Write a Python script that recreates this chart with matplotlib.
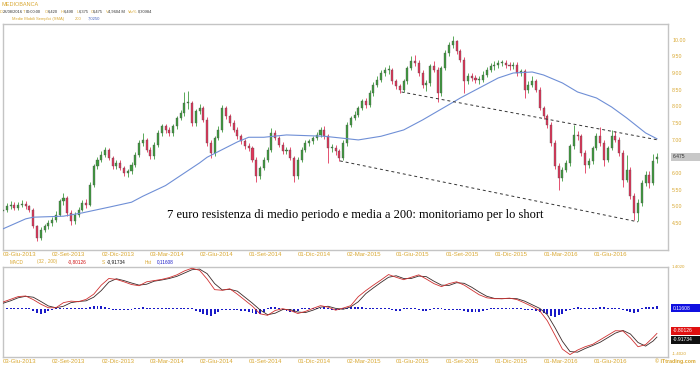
import matplotlib
matplotlib.use('Agg')
import matplotlib.pyplot as plt
import matplotlib.dates as mdates
from matplotlib.patches import Rectangle
import numpy as np
import pandas as pd

# weekly bars
weeks = pd.date_range('2013-05-03', '2016-08-26', freq='W-FRI')

opens = [4.85, 4.90, 5.00, 5.05, 4.95, 5.05, 5.08, 5.00, 4.90, 4.40,
         4.05, 4.30, 4.40, 4.50, 4.60, 4.75, 5.15, 5.25, 4.80, 4.55,
         4.75, 4.90, 5.10, 5.05, 5.65, 6.20, 6.40, 6.55, 6.70, 6.45,
         6.20, 6.30, 6.15, 6.00, 6.05, 6.25, 6.55, 6.90, 7.00, 6.70,
         6.50, 6.85, 7.20, 7.40, 7.30, 7.20, 7.40, 7.65, 7.80, 8.10,
         8.10, 7.50, 7.85, 7.95, 7.60, 6.90, 6.60, 7.05, 7.30, 7.95,
         7.70, 7.50, 7.30, 7.10, 6.95, 6.80, 6.75, 6.40, 5.90, 6.15,
         6.40, 6.70, 7.20, 7.05, 6.85, 6.65, 6.70, 6.45, 5.90, 6.40,
         6.70, 6.90, 6.95, 7.05, 7.15, 7.30, 7.10, 6.75, 6.75, 6.65,
         6.45, 6.90, 7.45, 7.65, 7.75, 7.95, 8.15, 8.05, 8.40, 8.65,
         8.80, 9.00, 9.10, 9.10, 8.75, 8.60, 8.50, 8.75, 9.15, 9.35,
         9.30, 9.00, 8.65, 8.70, 9.20, 9.10, 8.40, 9.15, 9.60, 9.85,
         9.95, 9.65, 9.40, 8.75, 8.90, 8.85, 8.80, 8.80, 8.95, 9.10,
         9.20, 9.25, 9.30, 9.30, 9.25, 9.20, 9.25, 9.00, 9.05, 8.50,
         8.65, 8.75, 8.50, 7.95, 7.70, 7.45, 6.90, 6.20, 5.85, 6.10,
         6.30, 6.80, 7.15, 7.10, 6.60, 6.25, 6.35, 6.75, 7.10, 6.90,
         6.40, 6.75, 7.10, 7.00, 6.60, 5.80, 6.10, 5.30, 4.80, 5.10,
         5.70, 5.95, 5.70, 6.420]
highs = [5.00, 5.10, 5.15, 5.12, 5.12, 5.18, 5.15, 5.05, 4.95, 4.45,
         4.38, 4.48, 4.58, 4.68, 4.85, 5.22, 5.40, 5.30, 4.88, 4.82,
         4.98, 5.18, 5.22, 5.72, 6.28, 6.48, 6.65, 6.78, 6.75, 6.52,
         6.38, 6.38, 6.22, 6.12, 6.32, 6.62, 6.98, 7.20, 7.05, 6.78,
         6.92, 7.28, 7.48, 7.46, 7.38, 7.48, 7.72, 7.90, 8.42, 8.45,
         8.15, 7.92, 8.08, 8.02, 7.68, 6.98, 7.12, 7.40, 8.05, 8.00,
         7.78, 7.58, 7.38, 7.18, 7.02, 6.90, 6.82, 6.48, 6.22, 6.48,
         6.78, 7.35, 7.28, 7.12, 6.92, 6.78, 6.78, 6.52, 6.48, 6.78,
         6.98, 7.02, 7.12, 7.22, 7.38, 7.40, 7.18, 6.88, 6.85, 6.72,
         6.98, 7.52, 7.72, 7.85, 8.02, 8.22, 8.25, 8.48, 8.72, 8.90,
         9.08, 9.18, 9.25, 9.15, 8.82, 8.68, 8.82, 9.22, 9.50, 9.55,
         9.38, 9.08, 8.80, 9.28, 9.35, 9.18, 9.22, 9.68, 9.92, 10.10,
         10.00, 9.72, 9.48, 9.00, 9.00, 8.95, 8.92, 9.05, 9.18, 9.30,
         9.35, 9.38, 9.40, 9.38, 9.32, 9.34, 9.32, 9.12, 9.12, 8.75,
         8.90, 8.82, 8.58, 8.02, 7.78, 7.52, 6.98, 6.30, 6.18, 6.38,
         6.88, 7.45, 7.25, 7.18, 6.68, 6.45, 6.82, 7.20, 7.38, 6.98,
         6.82, 7.28, 7.25, 7.08, 6.68, 6.55, 6.18, 5.40, 5.22, 5.78,
         6.05, 6.05, 6.58, 6.60]
lows = [4.75, 4.82, 4.92, 4.88, 4.88, 4.98, 4.92, 4.82, 4.35, 3.95,
        3.98, 4.22, 4.32, 4.42, 4.52, 4.70, 5.05, 4.72, 4.45, 4.48,
        4.68, 4.85, 4.95, 5.00, 5.58, 6.12, 6.32, 6.48, 6.38, 6.12,
        6.12, 6.08, 5.90, 5.88, 5.98, 6.18, 6.48, 6.82, 6.62, 6.42,
        6.42, 6.78, 7.12, 7.20, 7.10, 7.12, 7.32, 7.58, 7.72, 7.92,
        7.40, 7.42, 7.78, 7.52, 6.82, 6.45, 6.52, 6.98, 7.22, 7.62,
        7.42, 7.22, 7.02, 6.88, 6.72, 6.65, 6.32, 5.72, 5.82, 6.08,
        6.32, 6.62, 6.98, 6.78, 6.58, 6.58, 6.38, 5.72, 5.82, 6.32,
        6.62, 6.82, 6.88, 6.98, 7.08, 7.02, 6.30, 6.62, 6.55, 6.35,
        6.38, 6.82, 7.38, 7.58, 7.68, 7.88, 7.95, 7.98, 8.32, 8.58,
        8.72, 8.92, 8.98, 8.68, 8.52, 8.40, 8.42, 8.68, 9.08, 9.20,
        8.92, 8.55, 8.45, 8.62, 9.02, 8.12, 8.32, 9.08, 9.52, 9.75,
        9.58, 9.32, 8.40, 8.68, 8.75, 8.70, 8.68, 8.72, 8.88, 9.02,
        9.10, 9.15, 9.20, 9.15, 9.10, 9.12, 8.92, 8.92, 8.25, 8.40,
        8.58, 8.42, 7.88, 7.62, 7.35, 6.82, 6.12, 5.48, 5.75, 6.02,
        6.22, 6.72, 7.00, 6.52, 6.00, 6.15, 6.28, 6.68, 6.82, 6.20,
        6.32, 6.68, 6.92, 6.52, 5.58, 5.72, 5.22, 4.60, 4.55, 5.02,
        5.62, 5.55, 5.65, 6.30]
closes = [4.90, 5.00, 5.05, 4.95, 5.05, 5.08, 5.00, 4.90, 4.40, 4.05,
          4.30, 4.40, 4.50, 4.60, 4.75, 5.15, 5.25, 4.80, 4.55, 4.75,
          4.90, 5.10, 5.05, 5.65, 6.20, 6.40, 6.55, 6.70, 6.45, 6.20,
          6.30, 6.15, 6.00, 6.05, 6.25, 6.55, 6.90, 7.00, 6.70, 6.50,
          6.85, 7.20, 7.40, 7.30, 7.20, 7.40, 7.65, 7.80, 8.10, 8.10,
          7.50, 7.85, 7.95, 7.60, 6.90, 6.60, 7.05, 7.30, 7.95, 7.70,
          7.50, 7.30, 7.10, 6.95, 6.80, 6.75, 6.40, 5.90, 6.15, 6.40,
          6.70, 7.20, 7.05, 6.85, 6.65, 6.70, 6.45, 5.90, 6.40, 6.70,
          6.90, 6.95, 7.05, 7.15, 7.30, 7.10, 6.75, 6.75, 6.65, 6.45,
          6.90, 7.45, 7.65, 7.75, 7.95, 8.15, 8.05, 8.40, 8.65, 8.80,
          9.00, 9.10, 9.10, 8.75, 8.60, 8.50, 8.75, 9.15, 9.35, 9.30,
          9.00, 8.65, 8.70, 9.20, 9.10, 8.40, 9.15, 9.60, 9.85, 9.95,
          9.65, 9.40, 8.75, 8.90, 8.85, 8.80, 8.80, 8.95, 9.10, 9.20,
          9.25, 9.30, 9.30, 9.25, 9.20, 9.25, 9.00, 9.05, 8.50, 8.65,
          8.75, 8.50, 7.95, 7.70, 7.45, 6.90, 6.20, 5.85, 6.10, 6.30,
          6.80, 7.15, 7.10, 6.60, 6.25, 6.35, 6.75, 7.10, 6.90, 6.40,
          6.75, 7.10, 7.00, 6.60, 5.80, 6.10, 5.30, 4.80, 5.10, 5.70,
          5.95, 5.70, 6.35, 6.475]

# 200-day simple moving average
sma_dates = ['2013-05-03', '2013-06-14', '2013-06-28', '2013-08-23', '2013-09-27',
             '2013-11-15', '2013-12-27', '2014-01-17', '2014-02-28', '2014-05-02',
             '2014-05-16', '2014-07-11', '2014-08-01', '2014-08-29', '2014-10-10',
             '2014-12-19', '2015-01-23', '2015-02-20', '2015-04-03', '2015-05-15',
             '2015-06-19', '2015-07-24', '2015-08-28', '2015-09-25', '2015-11-06',
             '2015-12-04', '2016-01-08', '2016-01-29', '2016-03-04', '2016-04-01',
             '2016-05-06', '2016-06-03', '2016-07-01', '2016-08-05', '2016-08-26']
sma_vals = [4.32, 4.62, 4.67, 4.70, 4.80, 4.97, 5.12, 5.30, 5.62, 6.30,
            6.47, 6.93, 7.07, 7.07, 7.14, 7.10, 7.04, 6.99, 7.10, 7.29,
            7.59, 7.92, 8.25, 8.49, 8.85, 9.00, 9.03, 8.94, 8.70, 8.43,
            8.25, 7.98, 7.65, 7.20, 7.025]

# MACD and signal, every second week (plus the last bar)
macd_idx = list(range(0, 173, 2)) + [173]
macd_vals = [0.24, 0.33, 0.42, 0.44, 0.32, 0.17, 0.05, 0.05, 0.22, 0.27,
             0.25, 0.33, 0.50, 0.80, 1.02, 0.99, 0.91, 0.82, 0.78, 0.91,
             0.95, 0.99, 1.05, 1.14, 1.27, 1.36, 1.29, 1.00, 0.65, 0.63,
             0.68, 0.50, 0.30, 0.10, -0.15, -0.20, -0.04, 0.02, -0.04, -0.14,
             -0.07, 0.03, 0.12, 0.07, -0.03, 0.04, 0.12, 0.42, 0.62, 0.80,
             0.97, 1.15, 1.06, 0.98, 1.06, 1.14, 1.00, 0.85, 0.75, 0.85,
             0.91, 0.80, 0.64, 0.48, 0.38, 0.35, 0.35, 0.37, 0.32, 0.21,
             0.09, -0.05, -0.38, -0.85, -1.32, -1.50, -1.35, -1.24, -1.16, -1.01,
             -0.86, -0.71, -0.72, -0.95, -1.24, -1.17, -0.93, -0.80]
signal_vals = [0.20, 0.28, 0.38, 0.43, 0.40, 0.26, 0.11, 0.05, 0.10, 0.22,
               0.26, 0.28, 0.40, 0.62, 0.90, 1.01, 0.95, 0.87, 0.80, 0.83,
               0.93, 0.97, 1.02, 1.09, 1.20, 1.31, 1.33, 1.18, 0.85, 0.64,
               0.66, 0.60, 0.40, 0.20, -0.02, -0.18, -0.13, -0.01, -0.01, -0.09,
               -0.11, -0.03, 0.07, 0.10, 0.03, 0.00, 0.08, 0.25, 0.52, 0.71,
               0.89, 1.06, 1.11, 1.02, 1.02, 1.10, 1.08, 0.93, 0.80, 0.79,
               0.88, 0.86, 0.73, 0.57, 0.43, 0.36, 0.35, 0.36, 0.35, 0.27,
               0.15, 0.03, -0.18, -0.60, -1.06, -1.40, -1.42, -1.30, -1.20, -1.09,
               -0.94, -0.79, -0.70, -0.82, -1.10, -1.22, -1.05, -0.92]
hist_vals = [0.04, 0.05, 0.05, 0.04, 0.04, 0.03, 0.03, 0.03, -0.06, -0.12,
             -0.15, -0.12, -0.05, -0.03, 0.03, 0.04, 0.05, 0.03, 0.03, 0.03,
             0.03, 0.03, 0.04, 0.07, 0.10, 0.12, 0.11, 0.07, 0.03, -0.03,
             -0.04, -0.04, -0.03, -0.03, -0.03, 0.03, 0.05, 0.06, 0.04, 0.03,
             0.03, 0.03, 0.03, 0.03, 0.03, 0.04, 0.05, 0.05, 0.04, 0.03,
             0.03, -0.05, -0.10, -0.16, -0.20, -0.21, -0.15, -0.08, -0.04, -0.03,
             -0.03, -0.04, -0.04, -0.05, -0.06, -0.08, -0.12, -0.15, -0.14, -0.08,
             0.03, 0.06, 0.07, 0.04, -0.03, -0.05, -0.08, -0.08, -0.05, 0.03,
             0.03, 0.05, 0.04, 0.03, 0.05, 0.06, 0.03, -0.03, -0.03, -0.03,
             0.03, 0.05, 0.07, 0.07, 0.06, 0.06, 0.05, 0.04, 0.03, 0.03,
             0.03, 0.03, 0.03, -0.03, -0.06, -0.05, 0.03, 0.03, 0.03, 0.03,
             -0.03, -0.06, -0.05, -0.03, 0.03, 0.03, 0.03, -0.03, -0.04, -0.04,
             -0.03, -0.04, -0.07, -0.09, -0.09, -0.09, -0.08, -0.07, -0.03, 0.03,
             0.03, 0.03, 0.03, 0.03, 0.03, 0.03, 0.03, 0.03, -0.03, -0.03,
             -0.04, -0.06, -0.08, -0.12, -0.17, -0.21, -0.24, -0.20, -0.14, -0.07,
             -0.03, 0.03, 0.06, 0.05, 0.03, 0.03, 0.03, 0.05, 0.08, 0.06,
             0.03, 0.03, 0.05, 0.03, -0.03, -0.06, -0.10, -0.12, -0.08, 0.03,
             0.07, 0.08, 0.09, 0.11]

# dashed trend lines
upper_dates = ['2015-05-11', '2016-08-28']
upper_vals = [8.43, 6.99]
lower_dates = ['2015-01-17', '2016-07-22']
lower_vals = [6.36, 4.53]

tick_dates = ['2013-06-03', '2013-09-02', '2013-12-02', '2014-03-03', '2014-06-02',
              '2014-09-01', '2014-12-01', '2015-03-02', '2015-06-01', '2015-09-01',
              '2015-12-01', '2016-03-01', '2016-06-01']
tick_labels = ['03-Giu-2013', '02-Set-2013', '02-Dic-2013', '03-Mar-2014', '02-Giu-2014',
               '01-Set-2014', '01-Dic-2014', '02-Mar-2015', '01-Giu-2015', '01-Set-2015',
               '01-Dic-2015', '01-Mar-2016', '01-Giu-2016']
price_ticks = [4.5, 5.0, 5.5, 6.0, 7.0, 7.5, 8.0, 8.5, 9.0, 9.5, 10.0]

GOLD = '#d9a832'
GREEN = '#3f9b3f'
RED = '#e0365a'
FRAME = '#c4c4c4'
SANS = 'Liberation Sans'

W, H = 700, 365
fig = plt.figure(figsize=(7, 3.65), dpi=100)


def fx(x):
    return x / W


def fy(y):
    return 1 - y / H


def ftext(x, y, s, color, size=3.6, **kw):
    fig.text(fx(x), fy(y), s, color=color, fontsize=size, va='center', ha='left',
             family=SANS, **kw)


ax = fig.add_axes([fx(3), fy(250), fx(665), 226 / H])
ax2 = fig.add_axes([fx(3), fy(357), fx(665), 90 / H])

x = mdates.date2num(weeks)
o = np.array(opens)
c = np.array(closes)
col = np.where(c >= o, GREEN, RED)

ax.vlines(x, lows, highs, colors=col, lw=0.6, zorder=2)
body = np.maximum(np.abs(c - o), 0.02)
ax.bar(x, body, bottom=np.minimum(o, c), width=3.8, color=col,
       edgecolor='#505050', linewidth=0.25, zorder=3)

ax.plot(mdates.date2num(pd.to_datetime(sma_dates)), sma_vals, color='#6f8fd6', lw=0.8, zorder=4)
ax.plot(mdates.date2num(pd.to_datetime(upper_dates)), upper_vals, color='#333333',
        lw=0.7, ls=(0, (3, 3)), zorder=4)
ax.plot(mdates.date2num(pd.to_datetime(lower_dates)), lower_vals, color='#333333',
        lw=0.7, ls=(0, (3, 3)), zorder=4)

x0 = mdates.date2num(pd.Timestamp('2013-05-03'))
for a in (ax, ax2):
    a.set_xlim(x0, x0 + 1231.5)
    a.set_xticks(mdates.date2num(pd.to_datetime(tick_dates)))
    a.set_xticklabels(tick_labels)
    a.tick_params(axis='x', length=0, pad=1.5, labelsize=4.3, labelcolor=GOLD)
    for s in a.spines.values():
        s.set_color(FRAME)
        s.set_linewidth(1.0)
    for lab in a.get_xticklabels():
        lab.set_family(SANS)

ax.set_ylim(3.685, 10.471)
ax.yaxis.tick_right()
ax.set_yticks(price_ticks)
ax.set_yticklabels(['%.2f' % v for v in price_ticks])
ax.tick_params(axis='y', length=0, pad=3, labelsize=3.8, labelcolor=GOLD)
for lab in ax.get_yticklabels():
    lab.set_family(SANS)

fig.text(fx(355), fy(215), '7 euro resistenza di medio periodo e media a 200: monitoriamo per lo short',
         fontsize=9.0, family='Liberation Serif', color='black', ha='center', va='center')

# MACD panel
xm = x[macd_idx]
ax2.bar(x, hist_vals, width=3.6, color='#1a1ac8', zorder=2)
ax2.plot(xm, signal_vals, color='#3a2a2a', lw=0.6, zorder=3)
ax2.plot(xm, macd_vals, color='#d03030', lw=0.6, zorder=4)
ax2.set_ylim(-1.58, 1.40)
ax2.set_yticks([])

# header
ftext(1, 5, 'MEDIOBANCA', GOLD, 4.0)
VAL = '#333333'
for xx, s, cc in [(0, 'D', GOLD), (3, '28/08/2016', VAL), (23, 'T', GOLD), (26, '00:00:00', VAL),
                  (45, 'O', GOLD), (48, '6,420', VAL), (61, 'H', GOLD), (63.5, '6,490', VAL),
                  (76.5, 'L', GOLD), (78.5, '6,375', VAL), (91, 'C', GOLD), (93, '6,475', VAL),
                  (105.5, 'V', GOLD), (108, '4,9604 M', VAL), (127.5, 'Var%', GOLD),
                  (138, '0,30984', VAL)]:
    ftext(xx, 12, s, cc, 2.9)
ftext(12, 19, 'Medie Mobili Semplici (SMA)', GOLD, 3.0)
ftext(75, 19, '200', GOLD, 3.0)
ftext(88, 19, '7,0250', '#4060c0', 3.0)

for xx, s, cc in [(10, 'MACD', GOLD), (37, '(32 , 200)', GOLD), (68, '-0,80126', '#d01010'),
                  (102, 'S', GOLD), (107, '-0,91734', '#111111'), (145, 'Hst', GOLD),
                  (157, '0,11608', '#1a1ac8')]:
    ftext(xx, 262, s, cc, 3.4)


def value_box(y, s, face, tc):
    fig.add_artist(Rectangle((fx(671), fy(y + 4)), fx(29), 8 / H, transform=fig.transFigure,
                             facecolor=face, edgecolor='none'))
    ftext(673, y, s, tc, 3.6)


value_box(157, '6.475', '#c8c8c8', '#333333')
value_box(308, '0.11608', '#1010e0', 'white')
value_box(331, '-0.80126', '#e01010', 'white')
value_box(339.5, '-0.91734', '#111111', 'white')
ftext(672, 267, '1.4020', GOLD, 3.2)
ftext(672, 354, '-1.4020', GOLD, 3.2)
ftext(655, 361, '\u00a9 ITtrading.com', GOLD, 3.8, weight='bold')

fig.savefig('out.png', dpi=100)
